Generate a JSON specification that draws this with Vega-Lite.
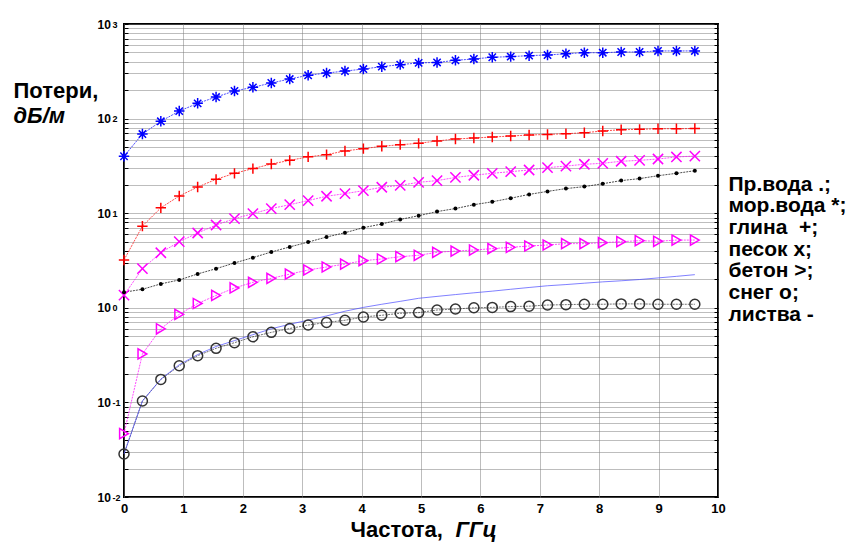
{
"$schema": "https://vega.github.io/schema/vega-lite/v6.json",
"width": 594, "height": 473,
"autosize": {"type": "none"},
"padding": {"left": 124, "top": 24, "right": 138, "bottom": 45},
"background": "white",
"config": {"view": {"stroke": "black", "strokeWidth": 2}, "font": "Liberation Sans"},
"data": {"values": [
{"freq":0,"loss":1.46,"material":"Пр.вода"},{"freq":0.31,"loss":1.57,"material":"Пр.вода"},{"freq":0.62,"loss":1.79,"material":"Пр.вода"},{"freq":0.93,"loss":1.97,"material":"Пр.вода"},{"freq":1.24,"loss":2.28,"material":"Пр.вода"},{"freq":1.55,"loss":2.59,"material":"Пр.вода"},{"freq":1.86,"loss":2.98,"material":"Пр.вода"},{"freq":2.17,"loss":3.39,"material":"Пр.вода"},{"freq":2.48,"loss":3.89,"material":"Пр.вода"},{"freq":2.79,"loss":4.4,"material":"Пр.вода"},{"freq":3.1,"loss":4.95,"material":"Пр.вода"},{"freq":3.41,"loss":5.6,"material":"Пр.вода"},{"freq":3.72,"loss":6.22,"material":"Пр.вода"},{"freq":4.03,"loss":7.03,"material":"Пр.вода"},{"freq":4.34,"loss":7.69,"material":"Пр.вода"},{"freq":4.65,"loss":8.6,"material":"Пр.вода"},{"freq":4.96,"loss":9.4,"material":"Пр.вода"},{"freq":5.27,"loss":10.4,"material":"Пр.вода"},{"freq":5.58,"loss":11.2,"material":"Пр.вода"},{"freq":5.89,"loss":12.3,"material":"Пр.вода"},{"freq":6.2,"loss":13.2,"material":"Пр.вода"},{"freq":6.51,"loss":14.4,"material":"Пр.вода"},{"freq":6.82,"loss":15.8,"material":"Пр.вода"},{"freq":7.13,"loss":17.0,"material":"Пр.вода"},{"freq":7.44,"loss":18.2,"material":"Пр.вода"},{"freq":7.75,"loss":19.1,"material":"Пр.вода"},{"freq":8.06,"loss":20.5,"material":"Пр.вода"},{"freq":8.37,"loss":22.1,"material":"Пр.вода"},{"freq":8.68,"loss":23.2,"material":"Пр.вода"},{"freq":8.99,"loss":24.9,"material":"Пр.вода"},{"freq":9.3,"loss":26.4,"material":"Пр.вода"},{"freq":9.61,"loss":28.1,"material":"Пр.вода"},
{"freq":0,"loss":40,"material":"мор.вода"},{"freq":0.31,"loss":68.7,"material":"мор.вода"},{"freq":0.62,"loss":93.6,"material":"мор.вода"},{"freq":0.93,"loss":120,"material":"мор.вода"},{"freq":1.24,"loss":145,"material":"мор.вода"},{"freq":1.55,"loss":169,"material":"мор.вода"},{"freq":1.86,"loss":196,"material":"мор.вода"},{"freq":2.17,"loss":214,"material":"мор.вода"},{"freq":2.48,"loss":238,"material":"мор.вода"},{"freq":2.79,"loss":262,"material":"мор.вода"},{"freq":3.1,"loss":287,"material":"мор.вода"},{"freq":3.41,"loss":303,"material":"мор.вода"},{"freq":3.72,"loss":318,"material":"мор.вода"},{"freq":4.03,"loss":334,"material":"мор.вода"},{"freq":4.34,"loss":354,"material":"мор.вода"},{"freq":4.65,"loss":372,"material":"мор.вода"},{"freq":4.96,"loss":388,"material":"мор.вода"},{"freq":5.27,"loss":392,"material":"мор.вода"},{"freq":5.58,"loss":413,"material":"мор.вода"},{"freq":5.89,"loss":427,"material":"мор.вода"},{"freq":6.2,"loss":445,"material":"мор.вода"},{"freq":6.51,"loss":452,"material":"мор.вода"},{"freq":6.82,"loss":463,"material":"мор.вода"},{"freq":7.13,"loss":470,"material":"мор.вода"},{"freq":7.44,"loss":485,"material":"мор.вода"},{"freq":7.75,"loss":497,"material":"мор.вода"},{"freq":8.06,"loss":497,"material":"мор.вода"},{"freq":8.37,"loss":506,"material":"мор.вода"},{"freq":8.68,"loss":506,"material":"мор.вода"},{"freq":8.99,"loss":519,"material":"мор.вода"},{"freq":9.3,"loss":519,"material":"мор.вода"},{"freq":9.61,"loss":519,"material":"мор.вода"},
{"freq":0,"loss":3.2,"material":"глина"},{"freq":0.31,"loss":7.3,"material":"глина"},{"freq":0.62,"loss":11.4,"material":"глина"},{"freq":0.93,"loss":15.2,"material":"глина"},{"freq":1.24,"loss":18.9,"material":"глина"},{"freq":1.55,"loss":22.8,"material":"глина"},{"freq":1.86,"loss":26.4,"material":"глина"},{"freq":2.17,"loss":29.6,"material":"глина"},{"freq":2.48,"loss":33.1,"material":"глина"},{"freq":2.79,"loss":36.2,"material":"глина"},{"freq":3.1,"loss":39.4,"material":"глина"},{"freq":3.41,"loss":41.6,"material":"глина"},{"freq":3.72,"loss":45.5,"material":"глина"},{"freq":4.03,"loss":48.1,"material":"глина"},{"freq":4.34,"loss":51,"material":"глина"},{"freq":4.65,"loss":53,"material":"глина"},{"freq":4.96,"loss":54.8,"material":"глина"},{"freq":5.27,"loss":58,"material":"глина"},{"freq":5.58,"loss":60.9,"material":"глина"},{"freq":5.89,"loss":62.3,"material":"глина"},{"freq":6.2,"loss":63.9,"material":"глина"},{"freq":6.51,"loss":65.4,"material":"глина"},{"freq":6.82,"loss":67.1,"material":"глина"},{"freq":7.13,"loss":68,"material":"глина"},{"freq":7.44,"loss":69.2,"material":"глина"},{"freq":7.75,"loss":70.9,"material":"глина"},{"freq":8.06,"loss":74,"material":"глина"},{"freq":8.37,"loss":76.3,"material":"глина"},{"freq":8.68,"loss":77,"material":"глина"},{"freq":8.99,"loss":78.2,"material":"глина"},{"freq":9.3,"loss":78.2,"material":"глина"},{"freq":9.61,"loss":78.5,"material":"глина"},
{"freq":0,"loss":1.36,"material":"песок"},{"freq":0.31,"loss":2.59,"material":"песок"},{"freq":0.62,"loss":3.82,"material":"песок"},{"freq":0.93,"loss":5.0,"material":"песок"},{"freq":1.24,"loss":6.18,"material":"песок"},{"freq":1.55,"loss":7.5,"material":"песок"},{"freq":1.86,"loss":8.75,"material":"песок"},{"freq":2.17,"loss":9.9,"material":"песок"},{"freq":2.48,"loss":11.2,"material":"песок"},{"freq":2.79,"loss":12.3,"material":"песок"},{"freq":3.1,"loss":13.6,"material":"песок"},{"freq":3.41,"loss":15.1,"material":"песок"},{"freq":3.72,"loss":16.1,"material":"песок"},{"freq":4.03,"loss":17.3,"material":"песок"},{"freq":4.34,"loss":18.8,"material":"песок"},{"freq":4.65,"loss":19.7,"material":"песок"},{"freq":4.96,"loss":21.2,"material":"песок"},{"freq":5.27,"loss":22.1,"material":"песок"},{"freq":5.58,"loss":23.9,"material":"песок"},{"freq":5.89,"loss":25.2,"material":"песок"},{"freq":6.2,"loss":26.4,"material":"песок"},{"freq":6.51,"loss":27.5,"material":"песок"},{"freq":6.82,"loss":28.6,"material":"песок"},{"freq":7.13,"loss":30.3,"material":"песок"},{"freq":7.44,"loss":31.5,"material":"песок"},{"freq":7.75,"loss":32.9,"material":"песок"},{"freq":8.06,"loss":33.7,"material":"песок"},{"freq":8.37,"loss":35.4,"material":"песок"},{"freq":8.68,"loss":36.2,"material":"песок"},{"freq":8.99,"loss":37.4,"material":"песок"},{"freq":9.3,"loss":39.3,"material":"песок"},{"freq":9.61,"loss":40.2,"material":"песок"},
{"freq":0,"loss":0.0467,"material":"бетон"},{"freq":0.31,"loss":0.325,"material":"бетон"},{"freq":0.62,"loss":0.6,"material":"бетон"},{"freq":0.93,"loss":0.853,"material":"бетон"},{"freq":1.24,"loss":1.11,"material":"бетон"},{"freq":1.55,"loss":1.35,"material":"бетон"},{"freq":1.86,"loss":1.62,"material":"бетон"},{"freq":2.17,"loss":1.86,"material":"бетон"},{"freq":2.48,"loss":2.05,"material":"бетон"},{"freq":2.79,"loss":2.27,"material":"бетон"},{"freq":3.1,"loss":2.51,"material":"бетон"},{"freq":3.41,"loss":2.7,"material":"бетон"},{"freq":3.72,"loss":2.9,"material":"бетон"},{"freq":4.03,"loss":3.15,"material":"бетон"},{"freq":4.34,"loss":3.28,"material":"бетон"},{"freq":4.65,"loss":3.47,"material":"бетон"},{"freq":4.96,"loss":3.59,"material":"бетон"},{"freq":5.27,"loss":3.86,"material":"бетон"},{"freq":5.58,"loss":3.98,"material":"бетон"},{"freq":5.89,"loss":4.08,"material":"бетон"},{"freq":6.2,"loss":4.22,"material":"бетон"},{"freq":6.51,"loss":4.36,"material":"бетон"},{"freq":6.82,"loss":4.5,"material":"бетон"},{"freq":7.13,"loss":4.61,"material":"бетон"},{"freq":7.44,"loss":4.77,"material":"бетон"},{"freq":7.75,"loss":4.77,"material":"бетон"},{"freq":8.06,"loss":4.88,"material":"бетон"},{"freq":8.37,"loss":5.0,"material":"бетон"},{"freq":8.68,"loss":5.12,"material":"бетон"},{"freq":8.99,"loss":5.05,"material":"бетон"},{"freq":9.3,"loss":5.2,"material":"бетон"},{"freq":9.61,"loss":5.2,"material":"бетон"},
{"freq":0,"loss":0.0285,"material":"снег"},{"freq":0.31,"loss":0.1035,"material":"снег"},{"freq":0.62,"loss":0.175,"material":"снег"},{"freq":0.93,"loss":0.244,"material":"снег"},{"freq":1.24,"loss":0.312,"material":"снег"},{"freq":1.55,"loss":0.373,"material":"снег"},{"freq":1.86,"loss":0.428,"material":"снег"},{"freq":2.17,"loss":0.494,"material":"снег"},{"freq":2.48,"loss":0.55,"material":"снег"},{"freq":2.79,"loss":0.604,"material":"снег"},{"freq":3.1,"loss":0.657,"material":"снег"},{"freq":3.41,"loss":0.7,"material":"снег"},{"freq":3.72,"loss":0.738,"material":"снег"},{"freq":4.03,"loss":0.8,"material":"снег"},{"freq":4.34,"loss":0.834,"material":"снег"},{"freq":4.65,"loss":0.875,"material":"снег"},{"freq":4.96,"loss":0.89,"material":"снег"},{"freq":5.27,"loss":0.948,"material":"снег"},{"freq":5.58,"loss":0.97,"material":"снег"},{"freq":5.89,"loss":1.0,"material":"снег"},{"freq":6.2,"loss":1.01,"material":"снег"},{"freq":6.51,"loss":1.03,"material":"снег"},{"freq":6.82,"loss":1.04,"material":"снег"},{"freq":7.13,"loss":1.07,"material":"снег"},{"freq":7.44,"loss":1.08,"material":"снег"},{"freq":7.75,"loss":1.09,"material":"снег"},{"freq":8.06,"loss":1.09,"material":"снег"},{"freq":8.37,"loss":1.1,"material":"снег"},{"freq":8.68,"loss":1.1,"material":"снег"},{"freq":8.99,"loss":1.09,"material":"снег"},{"freq":9.3,"loss":1.09,"material":"снег"},{"freq":9.61,"loss":1.09,"material":"снег"},
{"freq":0,"loss":0.0285,"material":"листва"},{"freq":0.31,"loss":0.1035,"material":"листва"},{"freq":0.62,"loss":0.176,"material":"листва"},{"freq":0.93,"loss":0.25,"material":"листва"},{"freq":1.24,"loss":0.32,"material":"листва"},{"freq":1.55,"loss":0.39,"material":"листва"},{"freq":1.86,"loss":0.45,"material":"листва"},{"freq":2.17,"loss":0.52,"material":"листва"},{"freq":2.48,"loss":0.6,"material":"листва"},{"freq":2.79,"loss":0.67,"material":"листва"},{"freq":3.1,"loss":0.74,"material":"листва"},{"freq":3.41,"loss":0.82,"material":"листва"},{"freq":3.72,"loss":0.92,"material":"листва"},{"freq":4.03,"loss":1.01,"material":"листва"},{"freq":4.34,"loss":1.09,"material":"листва"},{"freq":4.65,"loss":1.17,"material":"листва"},{"freq":4.96,"loss":1.26,"material":"листва"},{"freq":5.27,"loss":1.32,"material":"листва"},{"freq":5.58,"loss":1.38,"material":"листва"},{"freq":5.89,"loss":1.44,"material":"листва"},{"freq":6.2,"loss":1.5,"material":"листва"},{"freq":6.51,"loss":1.57,"material":"листва"},{"freq":6.82,"loss":1.64,"material":"листва"},{"freq":7.13,"loss":1.71,"material":"листва"},{"freq":7.44,"loss":1.76,"material":"листва"},{"freq":7.75,"loss":1.82,"material":"листва"},{"freq":8.06,"loss":1.88,"material":"листва"},{"freq":8.37,"loss":1.93,"material":"листва"},{"freq":8.68,"loss":1.99,"material":"листва"},{"freq":8.99,"loss":2.07,"material":"листва"},{"freq":9.3,"loss":2.15,"material":"листва"},{"freq":9.61,"loss":2.24,"material":"листва"}
]},
"layer": [
{
"transform": [{"filter": "datum.material != 'листва'"}],
"mark": {"type": "line", "strokeWidth": 1, "strokeDash": [2, 1], "opacity": 0.7},
"encoding": {
"x": {"field": "freq", "type": "quantitative", "scale": {"domain": [0, 10], "nice": false},
"axis": {"orient": "bottom", "values": [0,1,2,3,4,5,6,7,8,9,10], "grid": true, "gridColor": "#7a7a7a", "gridDash": [1, 1], "domain": false, "ticks": false, "labelFlush": false, "labelFont": "Liberation Sans", "labelFontSize": 13, "labelFontWeight": "bold", "labelColor": "black", "labelPadding": 5,
"title": "Частота, ", "titleX": 226, "titleY": 39, "titleAlign": "left", "titleBaseline": "alphabetic", "titleFont": "Liberation Sans", "titleFontSize": 22, "titleFontWeight": "bold", "titleColor": "black"}},
"y": {"field": "loss", "type": "quantitative", "scale": {"type": "log", "domain": [0.01, 1000], "nice": false},
"axis": {"orient": "left", "values": [0.01,0.02,0.03,0.04,0.05,0.06,0.07,0.08,0.09,0.1,0.2,0.3,0.4,0.5,0.6,0.7,0.8,0.9,1,2,3,4,5,6,7,8,9,10,20,30,40,50,60,70,80,90,100,200,300,400,500,600,700,800,900,1000],
"grid": true, "gridColor": "#7a7a7a", "gridDash": [1, 1], "labels": false, "ticks": true, "tickSize": -4, "tickColor": "black", "domain": false,
"title": "Потери,", "titleAngle": 0, "titleAlign": "left", "titleBaseline": "alphabetic", "titleX": -111, "titleY": 73, "titleFont": "Liberation Sans", "titleFontSize": 22, "titleFontWeight": "bold", "titleColor": "black"}},
"color": {"field": "material", "type": "nominal", "legend": null,
"scale": {"domain": ["Пр.вода","мор.вода","глина","песок","бетон","снег","листва"], "range": ["#000000","#0000ff","#ff0000","#ff00ff","#ff00ff","#333333","#4a4aff"]}}
}
},
{
"transform": [{"filter": "datum.material == 'листва'"}],
"mark": {"type": "line", "strokeWidth": 1, "opacity": 0.7},
"encoding": {
"x": {"field": "freq", "type": "quantitative", "axis": null},
"y": {"field": "loss", "type": "quantitative",
"axis": {"orient": "left", "values": [0.01, 0.1, 1, 10, 100, 1000], "grid": false, "ticks": false, "domain": false, "labelFlush": false,
"labelExpr": "datum.value >= 999 ? '3' : datum.value >= 99 ? '2' : datum.value >= 9 ? '1' : datum.value >= 0.9 ? '0' : datum.value >= 0.09 ? '-1' : '-2'",
"labelAlign": "left", "labelPadding": 12, "labelDy": -5, "labelFont": "Liberation Sans", "labelFontSize": 9, "labelFontWeight": "bold", "labelColor": "black", "title": null}},
"color": {"field": "material", "type": "nominal", "legend": null}
}
},
{
"transform": [{"filter": "datum.material != 'листва' && datum.material != 'Пр.вода'"}],
"mark": {"type": "point", "filled": false, "strokeWidth": 1.5, "opacity": 1},
"encoding": {
"x": {"field": "freq", "type": "quantitative",
"axis": {"orient": "bottom", "labels": false, "grid": false, "ticks": false, "domain": false, "title": "ГГц", "titleX": 331, "titleY": 39, "titleAlign": "left", "titleBaseline": "alphabetic", "titleFont": "Liberation Sans", "titleFontSize": 22, "titleFontWeight": "bold", "titleFontStyle": "italic", "titleColor": "black"}},
"y": {"field": "loss", "type": "quantitative",
"axis": {"orient": "left", "values": [0.01, 0.1, 1, 10, 100, 1000], "grid": false, "ticks": false, "domain": false, "labelFlush": false, "labelExpr": "'10'", "labelAlign": "left", "labelPadding": 27, "labelFont": "Liberation Sans", "labelFontSize": 12, "labelFontWeight": "bold", "labelColor": "black",
"title": "дБ/м", "titleAngle": 0, "titleAlign": "left", "titleBaseline": "alphabetic", "titleX": -111, "titleY": 98, "titleFont": "Liberation Sans", "titleFontSize": 22, "titleFontWeight": "bold", "titleFontStyle": "italic", "titleColor": "black"}},
"color": {"field": "material", "type": "nominal", "legend": null},
"shape": {"field": "material", "type": "nominal", "legend": null,
"scale": {"domain": ["мор.вода","глина","песок","бетон","снег"], "range": ["M-1,0L1,0M0,-1L0,1M-0.7,-0.7L0.7,0.7M-0.7,0.7L0.7,-0.7", "M-1,0L1,0M0,-1L0,1", "M-1,-1L1,1M-1,1L1,-1", "triangle-right", "circle"]}},
"size": {"field": "material", "type": "nominal", "legend": null,
"scale": {"domain": ["мор.вода","глина","песок","бетон","снег"], "range": [110, 100, 40, 100, 80]}}
}
},
{
"transform": [{"filter": "datum.material == 'Пр.вода'"}],
"mark": {"type": "point", "filled": true, "size": 16, "opacity": 1, "color": "black"},
"encoding": {
"x": {"field": "freq", "type": "quantitative", "axis": null},
"y": {"field": "loss", "type": "quantitative",
"axis": {"orient": "right", "values": [0.01,0.02,0.03,0.04,0.05,0.06,0.07,0.08,0.09,0.1,0.2,0.3,0.4,0.5,0.6,0.7,0.8,0.9,1,2,3,4,5,6,7,8,9,10,20,30,40,50,60,70,80,90,100,200,300,400,500,600,700,800,900,1000],
"grid": false, "labels": false, "ticks": true, "tickSize": -4, "tickColor": "black", "domain": false,
"title": ["Пр.вода .;", "мор.вода *;", "глина\u00a0 +;", "песок x;", "бетон >;", "снег o;", "листва -"],
"titleAngle": 0, "titleAlign": "left", "titleBaseline": "alphabetic", "titleX": 10, "titleY": 166, "titleLineHeight": 21.7, "titleFont": "Liberation Sans", "titleFontSize": 21, "titleFontWeight": "bold", "titleColor": "black"}}
}
}
],
"resolve": {"axis": {"x": "independent", "y": "independent"}}
}
